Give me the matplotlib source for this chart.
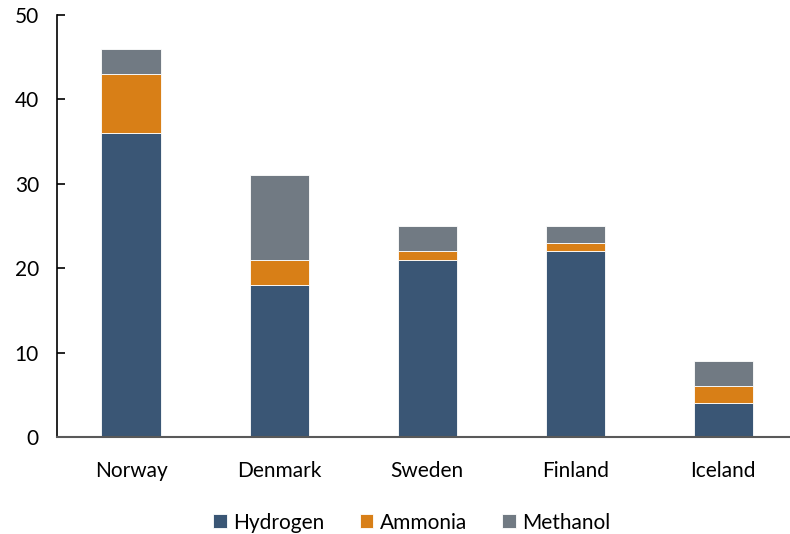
import numpy as np
import matplotlib.pyplot as plt

countries = ["Norway", "Denmark", "Sweden", "Finland", "Iceland"]
hydrogen = [36, 18, 21, 22, 4]
ammonia = [7, 3, 1, 1, 2]
methanol = [3, 10, 3, 2, 3]

colors = ["#3a5675", "#d87f17", "#717a83"]

plt.rcParams['font.family'] = ['Lato', 'DejaVu Sans']

fig = plt.figure(figsize=(7.9, 5.34), dpi=100)
ax = fig.add_axes([57/790, 1 - 437/534, (790 - 57)/790, (437 - 15)/534])

x = np.arange(len(countries))
h = np.array(hydrogen)
a = np.array(ammonia)
m = np.array(methanol)
w = 0.4
ax.bar(x, h, w, color=colors[0], edgecolor="white", linewidth=0.6, label="Hydrogen")
ax.bar(x, a, w, bottom=h, color=colors[1], edgecolor="white", linewidth=0.6, label="Ammonia")
ax.bar(x, m, w, bottom=h + a, color=colors[2], edgecolor="white", linewidth=0.6, label="Methanol")

ax.set_xlim(-0.5, 4.45)
ax.set_ylim(0, 50)
ax.set_yticks([0, 10, 20, 30, 40, 50])
ax.set_xticks(x)
ax.set_xticklabels(countries)

for s in ["top", "right"]:
    ax.spines[s].set_visible(False)
ax.spines["left"].set_color("black")
ax.spines["left"].set_linewidth(1.2)
ax.spines["bottom"].set_color("#595959")
ax.spines["bottom"].set_linewidth(1.5)

ax.tick_params(axis="y", direction="in", length=6, width=1.2, labelsize=15, pad=13)
ax.tick_params(axis="x", length=0, labelsize=15, pad=17)

ax.legend(loc="upper center", bbox_to_anchor=(0.484, -0.135), ncol=3, frameon=False,
          fontsize=15, handlelength=0.65, handleheight=0.65, handletextpad=0.3,
          columnspacing=1.7)

fig.savefig("out.png", dpi=100)
